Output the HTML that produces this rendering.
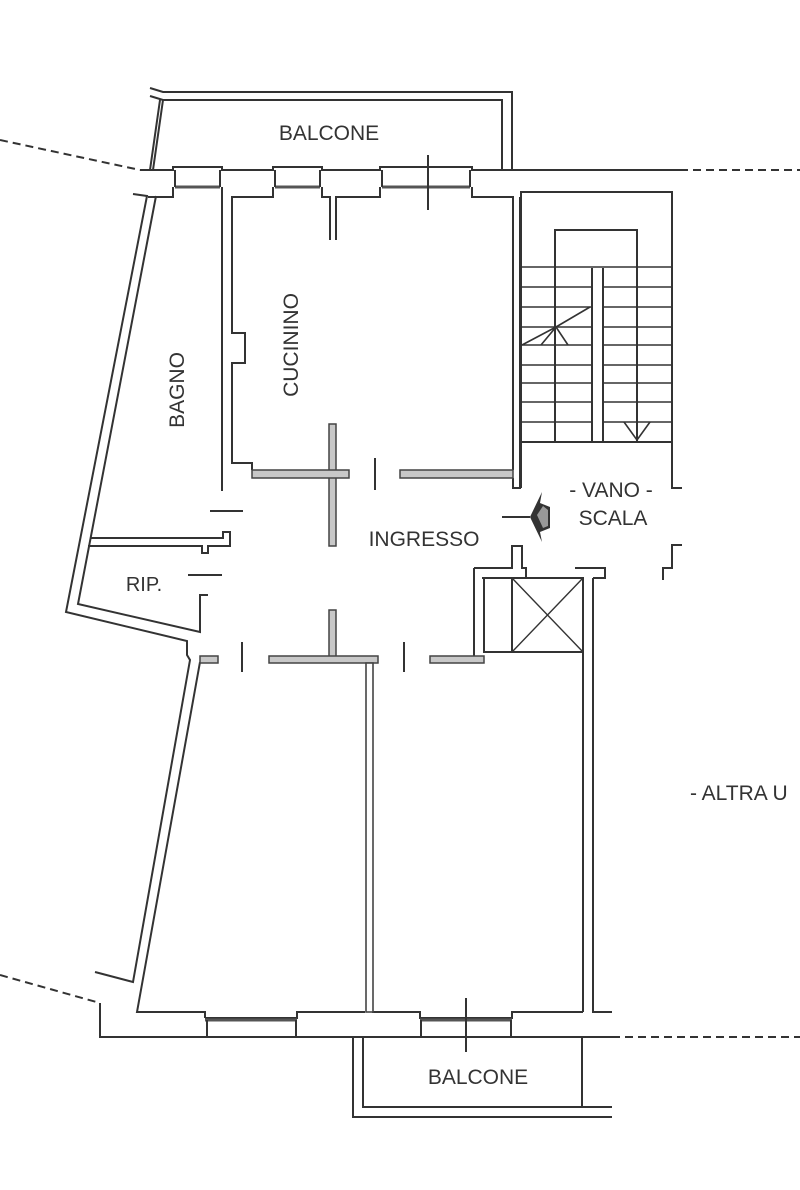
<!DOCTYPE html>
<html><head><meta charset="utf-8"><style>
html,body{margin:0;padding:0;background:#fff;}
svg{display:block;}
text{font-family:"Liberation Sans",sans-serif;fill:#333;}
</style></head><body>
<svg width="800" height="1190" viewBox="0 0 800 1190" xmlns="http://www.w3.org/2000/svg">
<g fill="none" stroke="#333" stroke-width="2" stroke-linejoin="miter">
<polyline points="150,88 163,92 512,92 512,170"/>
<polyline points="150,96 163,100 502,100 502,170"/>
<line x1="160" y1="100" x2="150" y2="170"/>
<line x1="163" y1="100" x2="153" y2="170"/>
<polyline points="0,140 140,170" stroke-dasharray="8,5"/>
<line x1="680" y1="170" x2="800" y2="170" stroke-dasharray="8,5"/>
<polyline points="140,170 173,170 173,167 222,167 222,170 273,170 273,167 322,167 322,170 380,170 380,167 472,167 472,170 680,170"/>
<g stroke-width="3" stroke="#555">
<line x1="175" y1="187" x2="220" y2="187"/><line x1="275" y1="187" x2="320" y2="187"/><line x1="382" y1="187" x2="470" y2="187"/>
</g>
<polyline points="148,197 173,197 173,187"/>
<polyline points="222,187 222,197 222,491"/>
<polyline points="273,187 273,197 232,197 232,333 245,333 245,363 232,363 232,463 252,463 252,470"/>
<polyline points="322,187 322,197 330,197 330,240"/>
<polyline points="380,187 380,197 336,197 336,240"/>
<polyline points="472,187 472,197 513,197 513,470"/>
<polyline points="513,478 513,488 520,488 520,197"/>
<line x1="175" y1="170" x2="175" y2="187"/><line x1="220" y1="170" x2="220" y2="187"/>
<line x1="275" y1="170" x2="275" y2="187"/><line x1="320" y1="170" x2="320" y2="187"/>
<line x1="382" y1="170" x2="382" y2="187"/><line x1="470" y1="170" x2="470" y2="187"/>
<line x1="428" y1="155" x2="428" y2="210"/>
<polyline points="133,194 147,196 66,612 187,641 187,655 190,660 133,982 95,972"/>
<polyline points="156,196 78,604 200,632 200,595 208,595"/>
<polyline points="200,662 137,1012 205,1012 205,1018"/>
<polyline points="100,1003 100,1037 355,1037"/>
<polyline points="0,975 100,1003" stroke-dasharray="8,5"/>
<line x1="355" y1="1037" x2="612" y2="1037"/>
<line x1="612" y1="1037" x2="800" y2="1037" stroke-dasharray="8,5"/>
<polyline points="205,1018 297,1018 297,1012 365,1012"/>
<polyline points="372,1012 420,1012 420,1018 512,1018 512,1012 583,1012"/>
<line x1="205" y1="1020" x2="297" y2="1020" stroke="#555" stroke-width="3"/>
<line x1="420" y1="1020" x2="512" y2="1020" stroke="#555" stroke-width="3"/>
<line x1="207" y1="1020" x2="207" y2="1037"/><line x1="296" y1="1020" x2="296" y2="1037"/>
<line x1="421" y1="1020" x2="421" y2="1037"/><line x1="511" y1="1020" x2="511" y2="1037"/>
<line x1="466" y1="998" x2="466" y2="1052"/>
<polyline points="353,1037 353,1117 612,1117"/>
<polyline points="363,1037 363,1107 612,1107"/>
<line x1="582" y1="1037" x2="582" y2="1107"/>
<polyline points="583,578 583,1012"/>
<polyline points="593,578 593,1012 612,1012"/>
<polyline points="575,568 605,568 605,578 593,578"/>
<rect x="521" y="192" width="151" height="250"/>
<line x1="521" y1="442" x2="521" y2="488"/>
<polyline points="672,442 672,488 682,488"/>
<polyline points="555,442 555,230 637,230 637,442"/>
<line x1="592" y1="268" x2="592" y2="442"/><line x1="603" y1="268" x2="603" y2="442"/>
<g stroke-width="1.6">
<line x1="521" y1="267" x2="672" y2="267"/>
<line x1="521" y1="287" x2="592" y2="287"/><line x1="603" y1="287" x2="672" y2="287"/>
<line x1="521" y1="307" x2="592" y2="307"/><line x1="603" y1="307" x2="672" y2="307"/>
<line x1="521" y1="327" x2="592" y2="327"/><line x1="603" y1="327" x2="672" y2="327"/>
<line x1="521" y1="345" x2="592" y2="345"/><line x1="603" y1="345" x2="672" y2="345"/>
<line x1="521" y1="365" x2="592" y2="365"/><line x1="603" y1="365" x2="672" y2="365"/>
<line x1="521" y1="383" x2="592" y2="383"/><line x1="603" y1="383" x2="672" y2="383"/>
<line x1="521" y1="402" x2="592" y2="402"/><line x1="603" y1="402" x2="672" y2="402"/>
<line x1="521" y1="422" x2="592" y2="422"/><line x1="603" y1="422" x2="672" y2="422"/>
<line x1="521" y1="442" x2="672" y2="442"/>
<polyline points="522,345 556,327 590,307"/>
<polyline points="541,345 556,327 568,345"/>
<polyline points="624,422 637,440 650,422"/>
</g>
<polyline points="682,545 672,545 672,568 663,568 663,580"/>
<polyline points="474,568 474,656"/>
<polyline points="482,578 583,578"/>
<rect x="484" y="578" width="99" height="74"/>
<line x1="512" y1="578" x2="512" y2="652"/>
<line x1="512" y1="578" x2="583" y2="652" stroke-width="1.4"/>
<line x1="583" y1="578" x2="512" y2="652" stroke-width="1.4"/>
<polyline points="474,568 512,568 512,546 522,546 522,568 526,568 526,578"/>
<line x1="210" y1="511" x2="243" y2="511"/>
<line x1="188" y1="575" x2="222" y2="575"/>
<line x1="375" y1="458" x2="375" y2="490"/>
<line x1="242" y1="642" x2="242" y2="672"/>
<line x1="404" y1="642" x2="404" y2="672"/>
<line x1="502" y1="517" x2="530" y2="517"/>
<polyline points="90,538 223,538 223,532 230,532 230,546 208,546 208,553 202,553 202,546 88,546"/>
</g>
<g fill="#c8c8c8" stroke="#444" stroke-width="1.5">
<rect x="329" y="424" width="7" height="122"/>
<rect x="252" y="470" width="97" height="8"/>
<rect x="400" y="470" width="113" height="8"/>
<rect x="329" y="610" width="7" height="50"/>
<rect x="269" y="656" width="109" height="7"/>
<rect x="430" y="656" width="54" height="7"/>
<rect x="200" y="656" width="18" height="7"/>
</g>
<rect x="366" y="663" width="7" height="349" fill="#fff" stroke="#444" stroke-width="1.6"/>
<polygon points="530,517 542,492 540,503 550,507 550,528 540,532 542,542" fill="#333"/>
<polygon points="537,515 543,506 548,510 548,526 543,528" fill="#999"/>
<text x="329" y="140" font-size="21" text-anchor="middle">BALCONE</text>
<text x="478" y="1084" font-size="21" text-anchor="middle">BALCONE</text>
<text transform="translate(298,345) rotate(-90)" font-size="21" text-anchor="middle">CUCININO</text>
<text transform="translate(184,390) rotate(-90)" font-size="21" text-anchor="middle">BAGNO</text>
<text x="424" y="546" font-size="21" text-anchor="middle">INGRESSO</text>
<text x="144" y="591" font-size="20" text-anchor="middle">RIP.</text>
<text x="611" y="497" font-size="21" text-anchor="middle">- VANO -</text>
<text x="613" y="525" font-size="21" text-anchor="middle">SCALA</text>
<text x="690" y="800" font-size="21">- ALTRA U</text>
</svg>
</body></html>
